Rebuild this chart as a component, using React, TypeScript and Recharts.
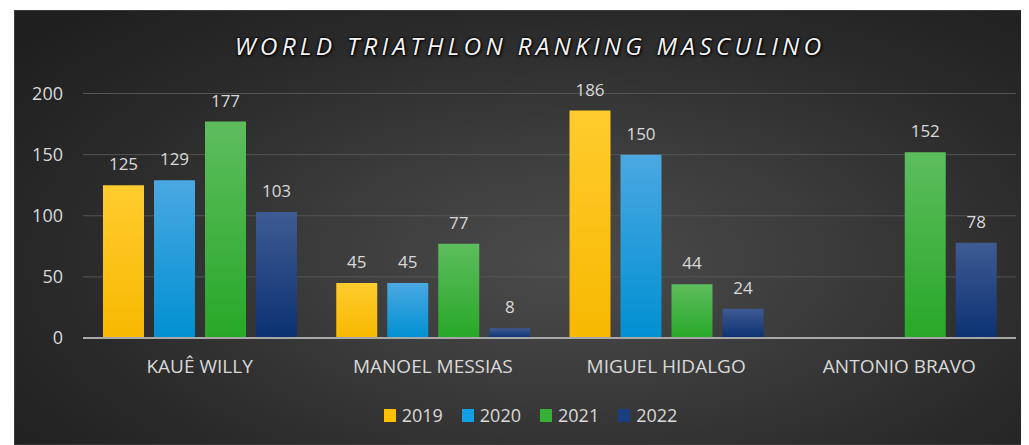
import React from 'react';
import { BarChart, Bar, XAxis, YAxis, CartesianGrid, Legend, LabelList } from 'recharts';

const categories = ['KAUÊ WILLY', 'MANOEL MESSIAS', 'MIGUEL HIDALGO', 'ANTONIO BRAVO'];
const values2019: (number | null)[] = [125, 45, 186, null];
const values2020: (number | null)[] = [129, 45, 150, null];
const values2021: (number | null)[] = [177, 77, 44, 152];
const values2022: (number | null)[] = [103, 8, 24, 78];
const seriesNames = ['2019', '2020', '2021', '2022'];
const yTicks = [0, 50, 100, 150, 200];
const title = 'WORLD TRIATHLON RANKING MASCULINO';

const data = categories.map((name, i) => ({
  name,
  '2019': values2019[i],
  '2020': values2020[i],
  '2021': values2021[i],
  '2022': values2022[i],
}));

const seriesStyle: Record<string, { top: string; bottom: string; swatch: string }> = {
  '2019': { top: '#ffcc2e', bottom: '#f7b800', swatch: '#ffc000' },
  '2020': { top: '#4aa8e2', bottom: '#0090d2', swatch: '#13a0e2' },
  '2021': { top: '#5dbd5d', bottom: '#28a828', swatch: '#36b036' },
  '2022': { top: '#3e5b93', bottom: '#0c3172', swatch: '#1a3f80' },
};

const FONT = '"Open Sans", "DejaVu Sans", sans-serif';
const TEXT = '#d9d9d9';

const LegendContent = () => (
  <div
    style={{
      display: 'flex',
      justifyContent: 'center',
      alignItems: 'center',
      height: 24,
      paddingLeft: 18,
      gap: 19,
      fontFamily: FONT,
      fontSize: 18,
      color: TEXT,
    }}
  >
    {seriesNames.map((s) => (
      <div key={s} style={{ display: 'flex', alignItems: 'center' }}>
        <span style={{ display: 'inline-block', width: 12, height: 13, background: seriesStyle[s].swatch, marginRight: 6 }} />
        <span style={{ lineHeight: '24px' }}>{s}</span>
      </div>
    ))}
  </div>
);

const fmt = (v: any) => (v === null || v === undefined ? '' : v);

export default function App() {
  return (
    <div
      style={{
        position: 'relative',
        marginLeft: 6,
        marginTop: 2,
        width: 1015,
        height: 435,
        overflow: 'hidden',
        background:
          'radial-gradient(ellipse 70% 80% at 55% 58%, #4b4b4b 0%, #3c3c3c 35%, #2a2a2a 70%, #1f1f1f 100%)',
        boxShadow: 'inset 0 0 0 1px #3a3a3a',
        fontFamily: FONT,
      }}
    >
      <div
        style={{
          position: 'absolute',
          left: 0,
          top: 24,
          width: 1032,
          textAlign: 'center',
          fontFamily: FONT,
          fontStyle: 'italic',
          fontSize: 24.5,
          lineHeight: '24px',
          letterSpacing: 4.2,
          color: '#f4f4f4',
          WebkitTextStroke: '1px #0a0a0a',
          paintOrder: 'stroke fill',
          textShadow: '0 0 3px #000, 1px 1px 3px #000',
          zIndex: 2,
        }}
      >
        {title}
      </div>
      <BarChart
        width={1015}
        height={435}
        data={data}
        margin={{ top: 83.5, right: 13, left: 0, bottom: 18 }}
        barGap={10}
        barSize={41}
        style={{ fontFamily: FONT }}
      >
        <defs>
          {seriesNames.map((s) => (
            <linearGradient key={s} id={`grad${s}`} x1="0" y1="0" x2="0" y2="1">
              <stop offset="0%" stopColor={seriesStyle[s].top} />
              <stop offset="100%" stopColor={seriesStyle[s].bottom} />
            </linearGradient>
          ))}
        </defs>
        <CartesianGrid vertical={false} stroke="#555555" strokeWidth={1} />
        <XAxis
          dataKey="name"
          height={65}
          tickLine={false}
          axisLine={{ stroke: '#a8a8a8', strokeWidth: 2 }}
          tickMargin={16}
          tick={{ fill: TEXT, fontSize: 19 }}
        />
        <YAxis
          width={69}
          domain={[0, 200]}
          ticks={yTicks}
          tickLine={false}
          axisLine={false}
          tickMargin={14}
          tick={{ fill: TEXT, fontSize: 18 }}
        />
        <Legend verticalAlign="bottom" content={<LegendContent />} wrapperStyle={{ left: 0, width: 1015 }} />
        {seriesNames.map((s) => (
          <Bar key={s} dataKey={s} fill={`url(#grad${s})`} isAnimationActive={false}>
            <LabelList dataKey={s} position="top" offset={15} fill={TEXT} fontSize={17} formatter={fmt} />
          </Bar>
        ))}
      </BarChart>
    </div>
  );
}
